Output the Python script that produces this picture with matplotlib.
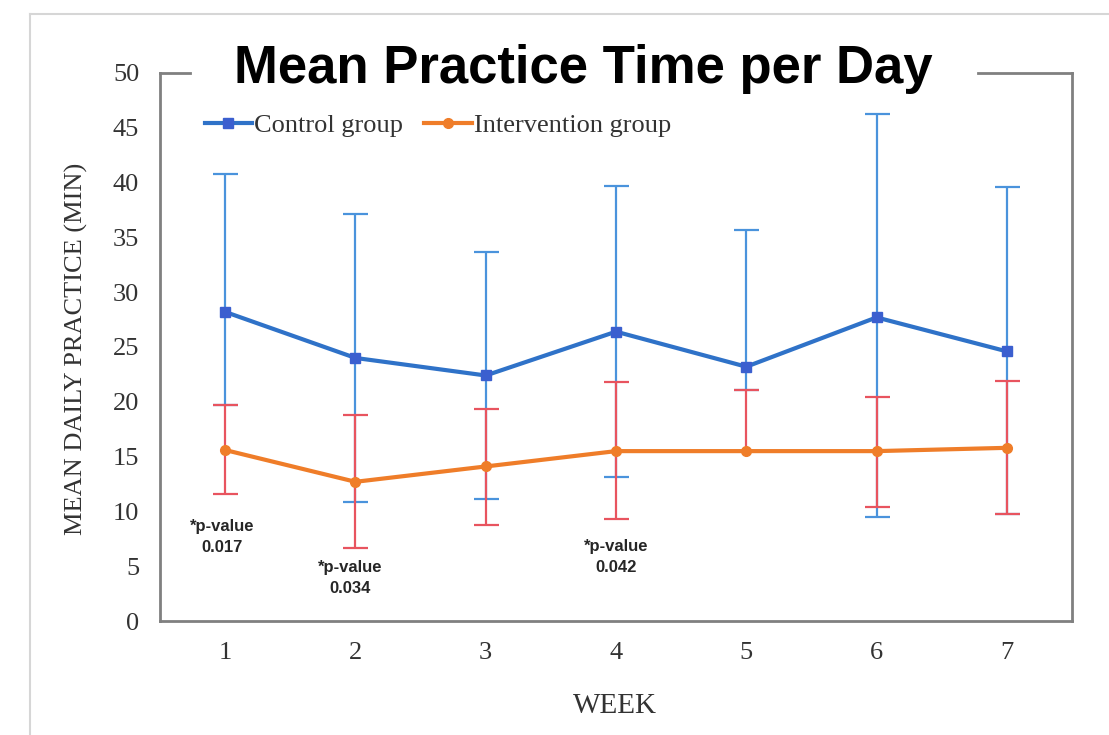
import matplotlib
matplotlib.use("Agg")
import matplotlib.pyplot as plt
from matplotlib.lines import Line2D

# weekly means and SDs (minutes per day)
weeks = [1, 2, 3, 4, 5, 6, 7]
control_mean = [28.2, 24.0, 22.4, 26.4, 23.2, 27.7, 24.6]
control_up = [12.6, 13.1, 11.3, 13.3, 12.5, 18.6, 15.0]
control_lo = [8.5, 13.1, 11.3, 13.3, 2.1, 18.2, 14.8]
interv_mean = [15.6, 12.7, 14.1, 15.5, 15.5, 15.5, 15.8]
interv_up = [4.1, 6.1, 5.2, 6.3, 5.6, 4.9, 6.1]
interv_lo = [4.0, 6.0, 5.3, 6.2, 0.0, 5.1, 6.0]

pvalue_weeks = [0.98, 1.96, 4.0]
pvalue_y = [7.65, 3.9, 5.85]
pvalue_text = ["*p-value\n0.017", "*p-value\n0.034", "*p-value\n0.042"]

serif = ["Liberation Serif", "DejaVu Serif"]

fig = plt.figure(figsize=(11.09, 7.35), dpi=100)
ax = fig.add_axes([0.1443, 0.1551, 0.8223, 0.7456])

# error bars first, red over blue
ax.errorbar(weeks, control_mean, yerr=[control_lo, control_up], fmt="none",
            ecolor="#4a93dc", elinewidth=1.6, capsize=9, capthick=1.6, zorder=2)
ax.errorbar(weeks, interv_mean, yerr=[interv_lo, interv_up], fmt="none",
            ecolor="#e8545f", elinewidth=1.6, capsize=9, capthick=1.6, zorder=3)

ax.plot(weeks, control_mean, color="#2f72c8", lw=3, marker="s", ms=7,
        mfc="#3b5fcf", mec="#3b5fcf", label="Control group", zorder=4)
ax.plot(weeks, interv_mean, color="#ef7d29", lw=3, marker="o", ms=7,
        label="Intervention group", zorder=5)

for x, y, t in zip(pvalue_weeks, pvalue_y, pvalue_text):
    ax.text(x, y, t, ha="center", va="center", fontsize=12, fontweight="bold",
            family="Liberation Sans", color="#262626", linespacing=1.5)

ax.set_xlim(0.5, 7.5)
ax.set_ylim(0, 50)
ax.set_xticks(weeks)
ax.set_yticks(range(0, 51, 5))
ax.tick_params(length=0, labelsize=19, colors="#333333")
ax.tick_params(axis="y", pad=15)
ax.tick_params(axis="x", pad=15)
for lab in ax.get_xticklabels() + ax.get_yticklabels():
    lab.set_family(serif)

ax.set_xlabel("WEEK", family=serif, fontsize=21, color="#333333")
ax.set_ylabel("MEAN DAILY PRACTICE (MIN)", family=serif, fontsize=19, color="#333333")
ax.xaxis.set_label_coords(0.499, -0.131)
ax.yaxis.set_label_coords(-0.079, 0.496)

for side in ["left", "right", "bottom"]:
    ax.spines[side].set_color("#808080")
    ax.spines[side].set_linewidth(2)
ax.spines["top"].set_visible(False)
# top frame broken where the title sits
for seg in [(0, 0.033), (0.897, 1)]:
    ax.plot(seg, [1, 1], transform=ax.transAxes, color="#808080", lw=2,
            clip_on=False, solid_capstyle="projecting")

leg = ax.legend(loc="center left", bbox_to_anchor=(0.049, 0.905), ncol=2,
                frameon=False, prop={"family": serif, "size": 19},
                handlelength=1.8, handletextpad=0.08, columnspacing=0.8,
                borderpad=0, borderaxespad=0)
for t in leg.get_texts():
    t.set_color("#333333")

fig.text(0.5257, 1 - 83 / 735, "Mean Practice Time per Day", ha="center",
         va="baseline", fontsize=38, fontweight="bold", family="Liberation Sans",
         color="black")

# light outer frame
fig.add_artist(Line2D([0.027, 1], [0.981, 0.981], transform=fig.transFigure,
                      color="#d6d6d6", lw=1.5))
fig.add_artist(Line2D([0.027, 0.027], [0, 0.981], transform=fig.transFigure,
                      color="#d6d6d6", lw=1.5))

fig.savefig("out.png", dpi=100, facecolor="white")
plt.close(fig)
